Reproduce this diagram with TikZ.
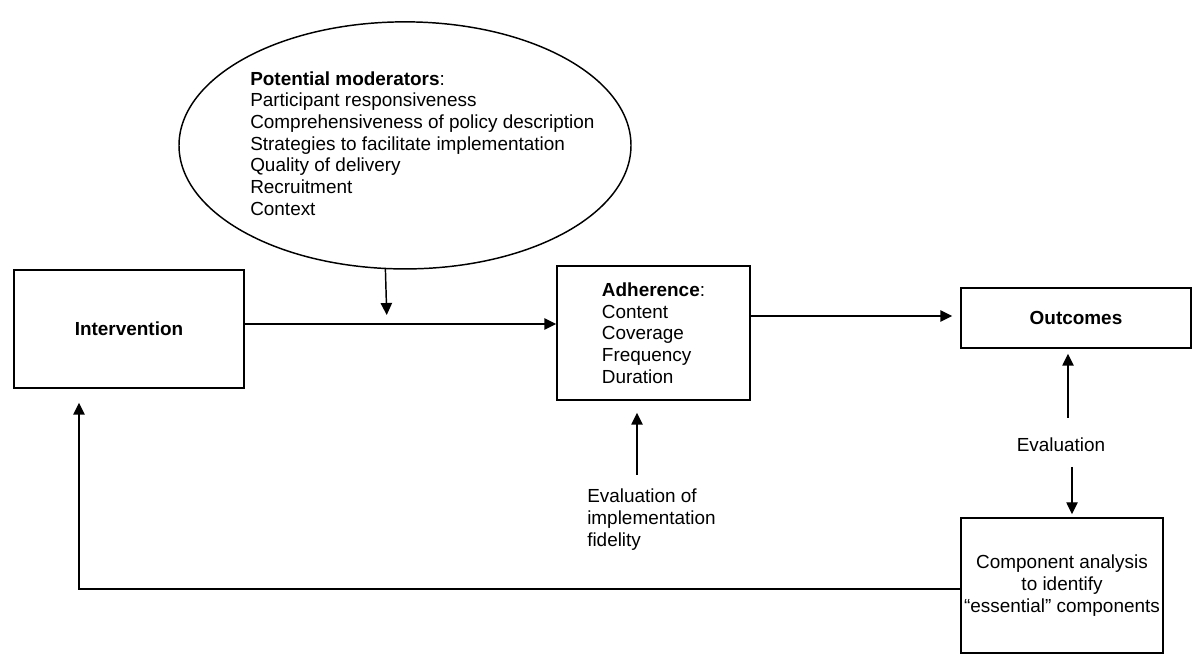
\documentclass[tikz,border=0pt]{standalone}
\usepackage{fontspec}
\setmainfont{Liberation Sans}
\usetikzlibrary{shapes.geometric,arrows.meta}
\begin{document}
\begin{tikzpicture}[x=0.75pt,y=-0.75pt,
  every node/.style={font=\fontsize{14.2pt}{16.3pt}\selectfont, inner sep=0pt},
  box/.style={draw, line width=1.1pt, rectangle},
  arr/.style={-{Triangle[length=9pt,width=8.5pt]}, line width=1.1pt},
  ln/.style={line width=1.1pt}]
\useasboundingbox (0,0) rectangle (1200,666);

% ellipse of moderators
\node[draw, ellipse, line width=1.1pt, minimum width=339pt, minimum height=185.3pt] (mod) at (405,145.4) {};
\node[anchor=west, align=left] (modtext) at (250,143.5)
  {\textbf{Potential moderators}:\\
   Participant responsiveness\\
   Comprehensiveness of policy description\\
   Strategies to facilitate implementation\\
   Quality of delivery\\
   Recruitment\\
   Context};

% boxes
\node[box, minimum width=172.5pt, minimum height=88.5pt] (int) at (129,329) {\textbf{Intervention}};
\node[box, minimum width=144.75pt, minimum height=100.5pt, align=left] (adh) at (653.5,333)
  {\textbf{Adherence}:\\Content\\Coverage\\Frequency\\Duration};
\node[box, minimum width=172.5pt, minimum height=45pt] (out) at (1076,318) {\textbf{Outcomes}};
\node[box, minimum width=151.5pt, minimum height=101.25pt, align=center] (comp) at (1062,585.5)
  {Component analysis\\to identify\\\char"201C essential\char"201D\ components};

% labels
\node[align=left, anchor=north west] (fid) at (587,489)
  {Evaluation of\\implementation\\fidelity};
\node (eval) at (1061,445) {Evaluation};

% coordinates
\coordinate (j) at (387,324);
\coordinate (k) at (750,316);
\coordinate (f1) at (637,475);
\coordinate (e1) at (1068,418);
\coordinate (e2) at (1072,467);
\coordinate (fb) at (79,589);

% connectors
\draw[arr, shorten >=6.75pt] (mod.261.7) -- (j);
\draw[arr] (int.east |- j) -- (adh.west |- j);
\draw[arr, shorten >=6pt] (k) -- (out.west |- k);
\draw[arr, shorten >=9pt] (f1) -- (f1 |- adh.south);
\draw[arr, shorten >=3.75pt] (e1) -- (e1 |- out.south);
\draw[arr, shorten >=2.25pt] (e2) -- (e2 |- comp.north);
\draw[arr, shorten >=10.5pt] (comp.west |- fb) -- (fb) -- (fb |- int.south);
\end{tikzpicture}
\end{document}
